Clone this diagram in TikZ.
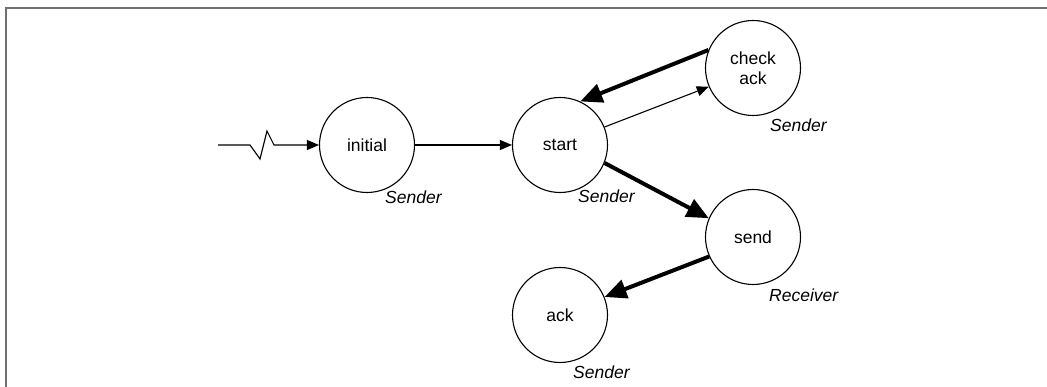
\documentclass[tikz,border=0pt]{standalone}
\usepackage{fontspec}
\setmainfont{Liberation Sans}
\usetikzlibrary{arrows.meta}

\definecolor{framegray}{RGB}{112,112,112}

\tikzset{
  state/.style={draw, circle, line width=1.1pt, minimum size=95pt, inner sep=0pt,
    font=\fontsize{17.5}{20}\selectfont, align=center},
  role/.style={anchor=west, inner sep=0pt, font=\fontsize{17.5}{20}\selectfont\itshape},
  thin/.style={line width=1.1pt, -{Triangle[length=12pt,width=10pt]}},
  thick/.style={line width=4pt, -{Triangle[length=22pt,width=19pt]}}
}

\begin{document}
\begin{tikzpicture}[x=1pt, y=-1pt]
  \useasboundingbox (0,0) rectangle (1047,387);
  % frame
  \draw[line width=2pt, framegray] (1049,8) -- (6,8) -- (6,389);

  % states
  \node[state] (initial) at (367,145) {initial};
  \node[state] (start) at (560,145) {start};
  \node[state] (check) at (753,68) {check\\ack};
  \node[state] (send) at (753,237) {send};
  \node[state] (ack) at (560,315) {ack};

  % roles
  \node[role] (initialrole) at (385,197) {Sender};
  \node[role] (startrole) at (578,196) {Sender};
  \node[role] (checkrole) at (770,125) {Sender};
  \node[role] (sendrole) at (769,295) {Receiver};
  \node[role] (ackrole) at (573,372) {Sender};

  % entry
  \coordinate (entry) at (218,145);
  \draw[thin] (entry) -- ++(32,0) -- ++(10,14) -- ++(7,-28) -- ++(7,14) -- (initial);

  % transitions
  \draw[thin] (initial) -- (start);
  \draw[thin] (start.22) -- (check.203);
  \draw[thick] (check.158) -- (start.65);
  \draw[thick] (start.-22) -- (send.157);
  \draw[thick] (send.204) -- (ack.22);
\end{tikzpicture}
\end{document}
